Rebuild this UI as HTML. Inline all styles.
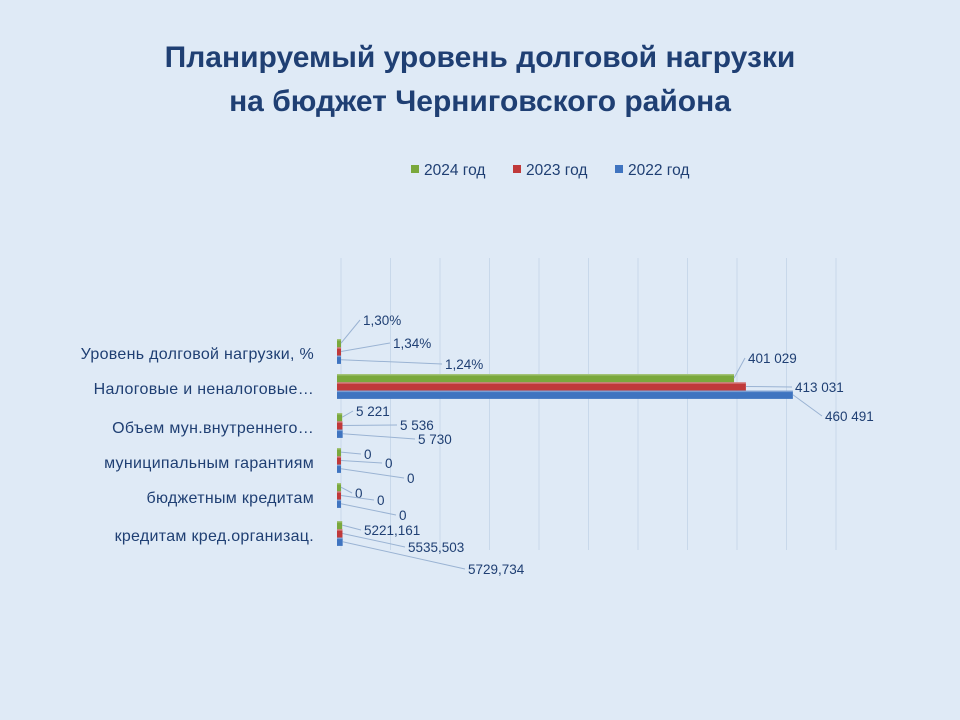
<!DOCTYPE html>
<html><head><meta charset="utf-8"><style>
body{margin:0;width:960px;height:720px;background:#dfeaf6;font-family:"Liberation Sans",sans-serif;overflow:hidden}
.t{position:absolute;left:0;width:960px;text-align:center;color:#1f3f73;font-weight:bold;font-size:30px}
</style></head><body>
<div class="t" style="top:36px;line-height:44px">Планируемый уровень долговой нагрузки<br>на бюджет Черниговского района</div>
<svg width="960" height="720" style="position:absolute;left:0;top:0" id="c"></svg>
<script>
const categories=["Уровень долговой нагрузки, %","Налоговые и неналоговые…","Объем мун.внутреннего…","муниципальным гарантиям","бюджетным кредитам","кредитам кред.организац."];
const v2024=[1.30,401029,5221,0,0,5221.161];
const v2023=[1.34,413031,5536,0,0,5535.503];
const v2022=[1.24,460491,5730,0,0,5729.734];
const l2024=["1,30%","401 029","5 221","0","0","5221,161"];
const l2023=["1,34%","413 031","5 536","0","0","5535,503"];
const l2022=["1,24%","460 491","5 730","0","0","5729,734"];
const seriesNames=["2024 год","2023 год","2022 год"];
const colors=["#7aa83c","#c0393a","#3f74c0"];
const ns="http://www.w3.org/2000/svg",svg=document.getElementById('c');
function mk(t,a,p){const e=document.createElementNS(ns,t);for(const k in a)e.setAttribute(k,a[k]);(p||svg).appendChild(e);return e;}
const x0=339,x1=834,maxV=500000;
const xs=v=>x0+v/maxV*(x1-x0);
const catY=[353,388,427,462,497,535];
for(let i=0;i<=10;i++){const g=mk('line',{x1:xs(i*50000)+2,y1:258,x2:xs(i*50000)+2,y2:550,stroke:'#c8d8ea','stroke-width':1});

}
const series=[v2024,v2023,v2022],labels=[l2024,l2023,l2022];
const offs=[[[363,320],[393,343],[445,364]],[[748,358],[795,387],[825,416]],[[356,411],[400,425],[418,439]],[[364,454],[385,463],[407,478]],[[355,493],[377,500],[399,515]],[[364,530],[408,547],[468,569]]];
categories.forEach((c,ci)=>{
 const t=mk('text',{x:314,y:catY[ci]+6,'text-anchor':'end','font-size':16,fill:'#1f3f73','letter-spacing':'0.3'});
 t.textContent=c;
 
 
 const h=8.3;
 series.forEach((s,si)=>{
  const y=catY[ci]-14+si*h;
  const w=Math.max(4,xs(s[ci])-x0);
  const b=mk('rect',{x:x0-2,y:y,width:w,height:h,fill:colors[si]});
  
  
  mk('rect',{x:x0-2,y:y,width:w,height:1.5,fill:'rgba(255,255,255,0.3)'});
  const o=offs[ci][si];
  const ln=mk('line',{x1:x0-2+w,y1:y+h/2,x2:o[0]-3,y2:o[1],stroke:'#9ab3d3','stroke-width':1});
  
  
  const lt=mk('text',{x:o[0],y:o[1]+5,'font-size':13.5,fill:'#1f3f73'});
  lt.textContent=labels[si][ci];
  
  
 });
});
const lx=[411,513,615];
seriesNames.forEach((n,i)=>{
 const r=mk('rect',{x:lx[i],y:165,width:8,height:8,fill:colors[i]});
 
 
 const t=mk('text',{x:lx[i]+13,y:175,'font-size':15.5,fill:'#1f3f73'});
 t.textContent=n;
 
 
});
</script>
</body></html>
